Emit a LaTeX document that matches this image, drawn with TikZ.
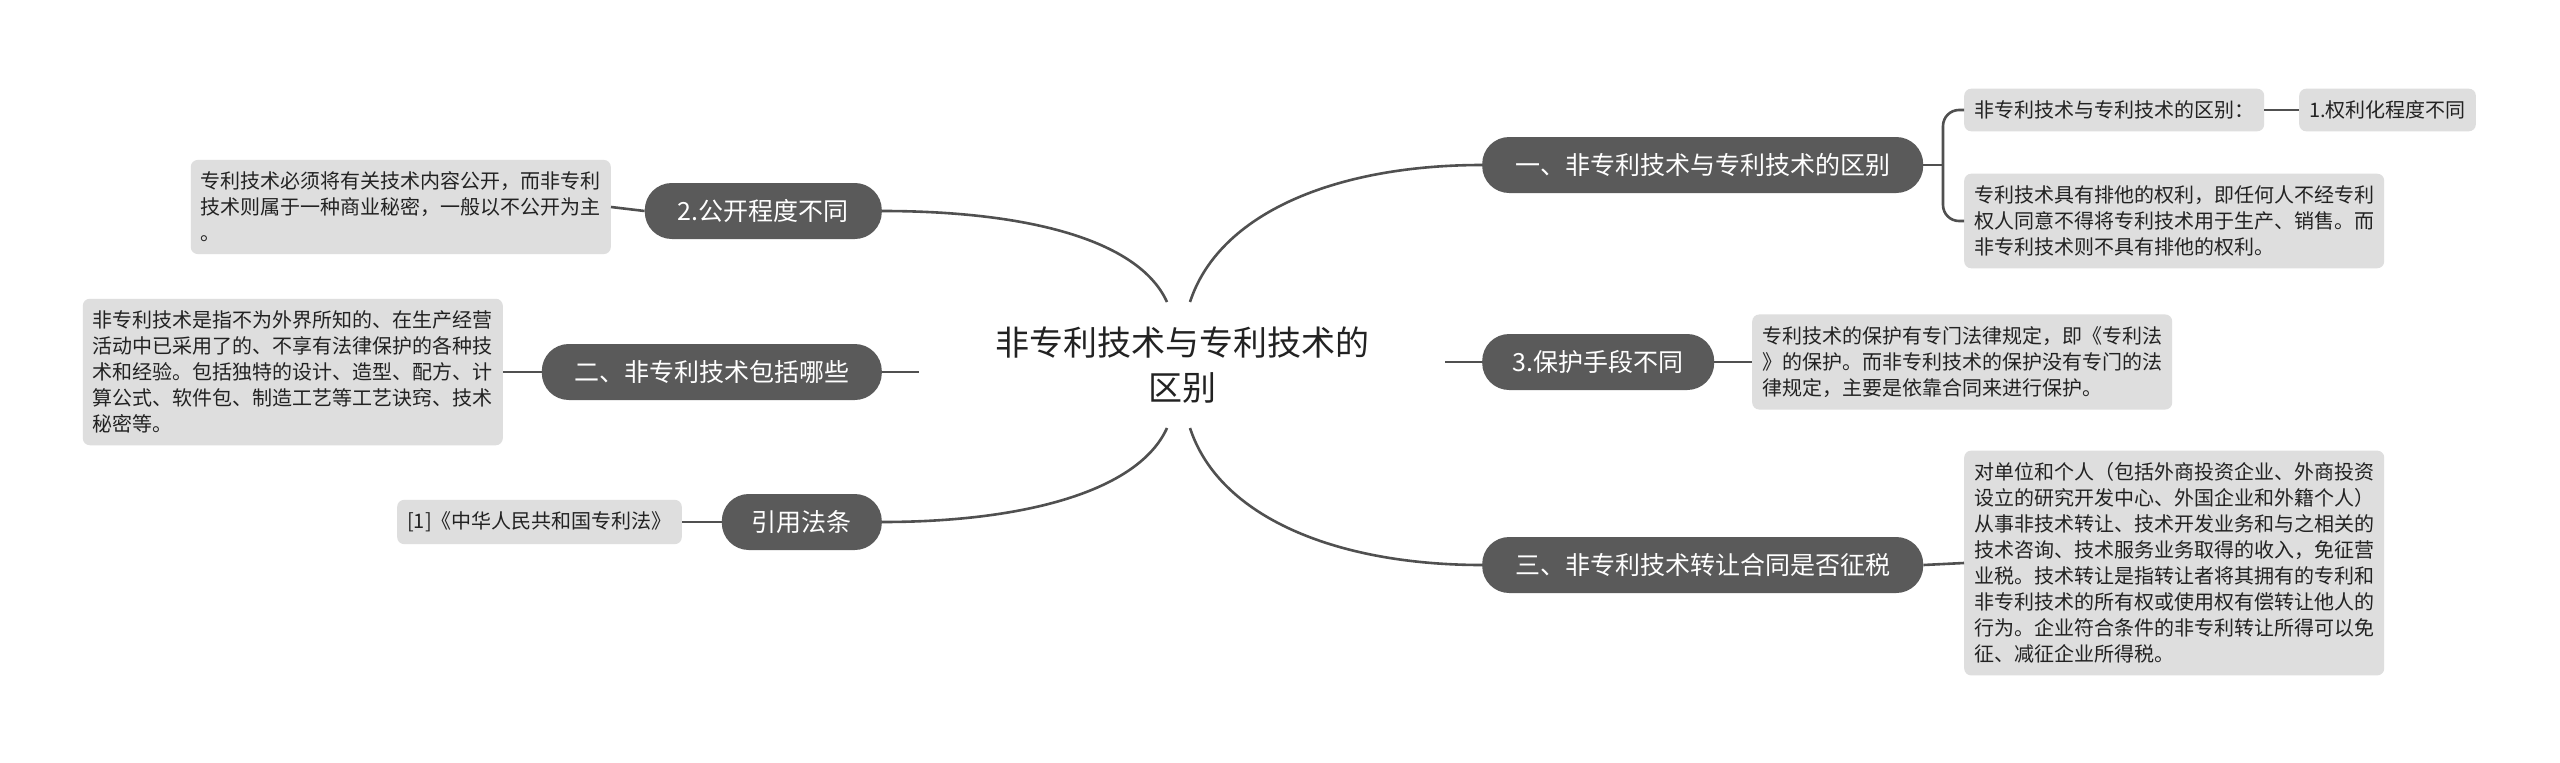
\documentclass[tikz,border=0pt]{standalone}
\usepackage{fontspec}
\setmainfont{Noto Sans CJK SC}
\definecolor{pillc}{RGB}{90,90,90}
\definecolor{boxc}{RGB}{222,222,222}
\definecolor{linec}{RGB}{80,80,80}
\definecolor{txtc}{RGB}{34,34,34}
\begin{document}
\begin{tikzpicture}[x=1pt,y=-1pt,
  pill/.style={rectangle, rounded corners=27pt, fill=pillc, text=white,
    minimum height=56pt, inner xsep=30pt, inner ysep=0pt,
    font=\fontsize{25pt}{30pt}\selectfont},
  infobox/.style={rectangle, rounded corners=7pt, fill=boxc, text=txtc,
    align=left, inner xsep=10pt, inner ysep=12pt,
    font=\fontsize{20pt}{26pt}\selectfont},
  conn/.style={draw=linec, line width=2.6pt},
  centertext/.style={align=center, text=txtc,
    font=\fontsize{34pt}{45pt}\selectfont}]
\useasboundingbox (0,0) rectangle (2560,763);
\fill[white] (0,0) rectangle (2560,763);

% center
\node[centertext] (root) at (1182,365) {非专利技术与专利技术的\\区别};
\coordinate (ctl) at (1167,302);
\coordinate (ctr) at (1190,302);
\coordinate (cbl) at (1167,428);
\coordinate (cbr) at (1190,428);
\coordinate (cl) at (919,372);
\coordinate (cr) at (1445,362);

% right side pills
\node[pill, anchor=west, minimum width=441pt] (A) at (1482,165) {一、非专利技术与专利技术的区别};
\node[pill, anchor=west, minimum width=232pt] (B) at (1482,362) {3.保护手段不同};
\node[pill, anchor=west, minimum width=441pt] (C) at (1482,565) {三、非专利技术转让合同是否征税};

% left side pills
\node[pill, anchor=east, minimum width=237pt] (D) at (882,211) {2.公开程度不同};
\node[pill, anchor=east, minimum width=340pt] (E) at (882,372) {二、非专利技术包括哪些};
\node[pill, anchor=east, minimum width=159pt] (F) at (882,522) {引用法条};

% right boxes
\node[infobox, anchor=west] (A1) at (1964,110) {非专利技术与专利技术的区别：};
\node[infobox, anchor=west] (A2) at (2299,110) {1.权利化程度不同};
\node[infobox, anchor=west] (A3) at (1964,221) {专利技术具有排他的权利，即任何人不经专利\\权人同意不得将专利技术用于生产、销售。而\\非专利技术则不具有排他的权利。};
\node[infobox, anchor=west] (B1) at (1752,362) {专利技术的保护有专门法律规定，即《专利法\\》的保护。而非专利技术的保护没有专门的法\\律规定，主要是依靠合同来进行保护。};
\node[infobox, anchor=west] (C1) at (1964,563) {对单位和个人（包括外商投资企业、外商投资\\设立的研究开发中心、外国企业和外籍个人）\\从事非技术转让、技术开发业务和与之相关的\\技术咨询、技术服务业务取得的收入，免征营\\业税。技术转让是指转让者将其拥有的专利和\\非专利技术的所有权或使用权有偿转让他人的\\行为。企业符合条件的非专利转让所得可以免\\征、减征企业所得税。};

% left boxes
\node[infobox, anchor=east] (D1) at (611,207) {专利技术必须将有关技术内容公开，而非专利\\技术则属于一种商业秘密，一般以不公开为主\\。};
\node[infobox, anchor=east] (E1) at (503,372) {非专利技术是指不为外界所知的、在生产经营\\活动中已采用了的、不享有法律保护的各种技\\术和经验。包括独特的设计、造型、配方、计\\算公式、软件包、制造工艺等工艺诀窍、技术\\秘密等。};
\node[infobox, anchor=east] (F1) at (682,522) {[1]《中华人民共和国专利法》};

% center connectors
\draw[conn] (ctr) .. controls (1219,213) and (1336,165) .. (A.west);
\draw[conn] (cbr) .. controls (1219,517) and (1336,565) .. (C.west);
\draw[conn] (ctl) .. controls (1138,238) and (1022,211) .. (D.east);
\draw[conn] (cbl) .. controls (1138,492) and (1022,522) .. (F.east);
\draw[conn] (E.east) -- (cl);
\draw[conn] (B.west) -- (cr);

% bracket for A
\coordinate (br) at (1943,165);
\draw[conn] (A.east) -- (br);
\draw[conn, rounded corners=16pt] (A1.west) -| (br) |- (A3.west);
\draw[conn] (A1.east) -- (A2.west);

% other
\draw[conn] (B.east) -- (B1.west);
\draw[conn] (C.east) -- (C1.west);
\draw[conn] (D.west) -- (D1.east);
\draw[conn] (E.west) -- (E1.east);
\draw[conn] (F.west) -- (F1.east);
\end{tikzpicture}
\end{document}
